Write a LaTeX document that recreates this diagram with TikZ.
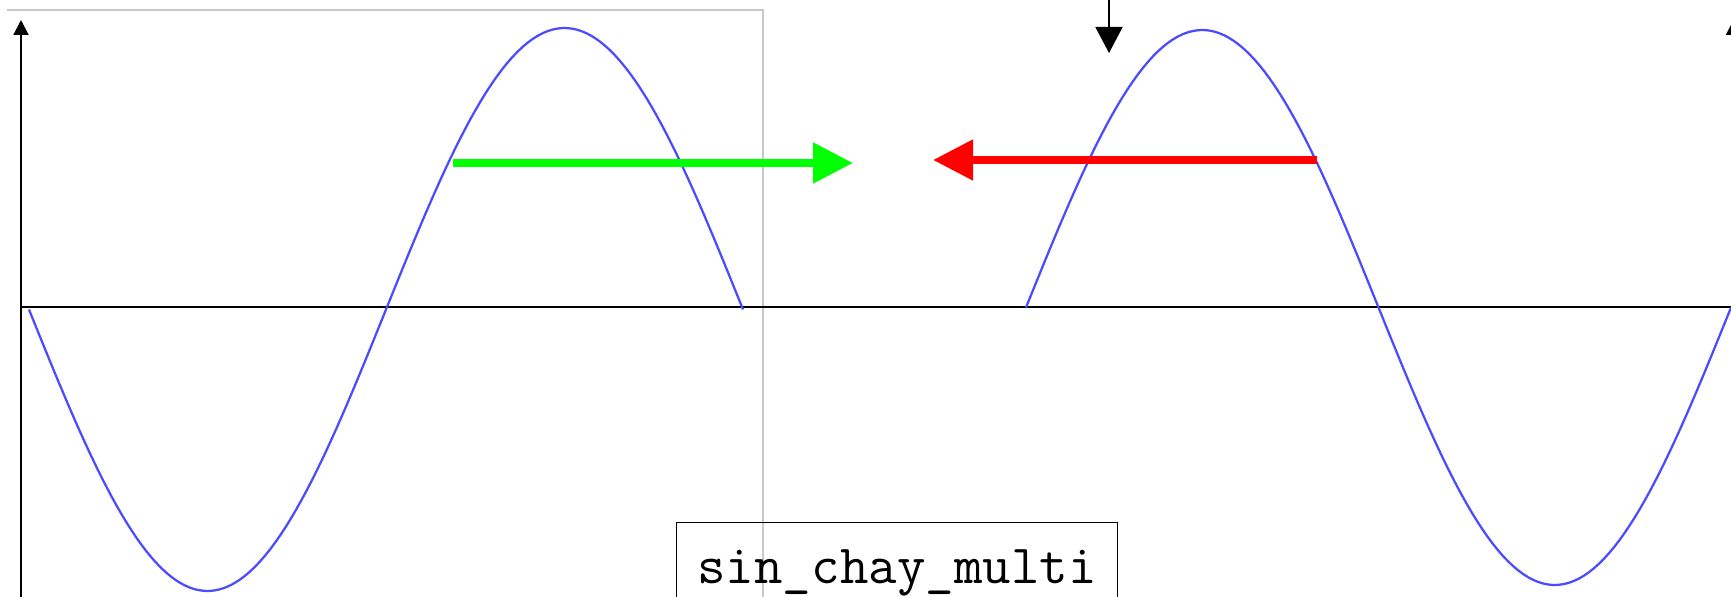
\documentclass[tikz,border=0pt]{standalone}
\usepackage{fontspec}
\usepackage{tikz}
\usetikzlibrary{arrows.meta}
\definecolor{wavblue}{RGB}{75,75,255}
\definecolor{framegray}{RGB}{200,200,200}
\definecolor{pushgreen}{RGB}{0,255,0}
\definecolor{pushred}{RGB}{255,0,0}

\begin{document}
\begin{tikzpicture}[x=0.02cm,y=-0.02cm,>=Stealth,
  axis/.style={black,line width=0.04cm},
  wave/.style={wavblue,line width=0.045cm,line join=round},
  push/.style={line width=0.16cm,-{Triangle[length=0.8cm,width=0.78cm]}}]

%% ── canvas (pixel grid, y pointing down) ─────────────────────────────────────
\useasboundingbox (0,0) rectangle (1731,597);
\fill[white] (0,0) rectangle (1731,597);

%% ── frame of the first window ───────────────────────────────────────────────
\draw[framegray,line width=0.04cm] (7,10) -- (763,10) -- (763,620);

%% ── axes ─────────────────────────────────────────────────────────────────────
\coordinate (yl0) at (21,600);
\coordinate (yl1) at (21,20);
\coordinate (yr0) at (1733.5,600);
\coordinate (yr1) at (1733.5,20);
\coordinate (x0) at (21,307);
\coordinate (x1) at (1740,307);
\draw[axis] (x0) -- (x1);
\draw[axis,-{Triangle[length=0.3cm,width=0.3cm]}] (yl0) -- (yl1);
\draw[axis,-{Triangle[length=0.3cm,width=0.3cm]}] (yr0) -- (yr1);

%% marker arrow from the top edge
\coordinate (mk0) at (1109,-5);
\coordinate (mk1) at (1109,53);
\draw[axis,-{Triangle[length=0.52cm,width=0.54cm]}] (mk0) -- (mk1);

%% ── sine waves ───────────────────────────────────────────────────────────────
\draw[wave] plot[domain=29:743,samples=140]
  (\x,{309.5+281.5*sin(0.504202*(\x-29))});
\draw[wave] plot[domain=1026:1731,samples=140]
  (\x,{307.5-277.5*sin(0.510638*(\x-1026))});

%% ── moving directions ────────────────────────────────────────────────────────
\coordinate (g0) at (453,163);
\coordinate (g1) at (853,163);
\draw[push,pushgreen] (g0) -- (g1);
\coordinate (r0) at (1317,160);
\coordinate (r1) at (933,160);
\draw[push,pushred] (r0) -- (r1);

%% ── label box ────────────────────────────────────────────────────────────────
\node[draw,black,line width=0.02cm,inner sep=0pt,anchor=base,
  minimum width=8.82cm,text height=1.22cm,text depth=1cm,
  font=\ttfamily\fontsize{31.5}{34}\selectfont] (title) at (897,583)
  {sin\_chay\_multi};

\end{tikzpicture}
\end{document}
